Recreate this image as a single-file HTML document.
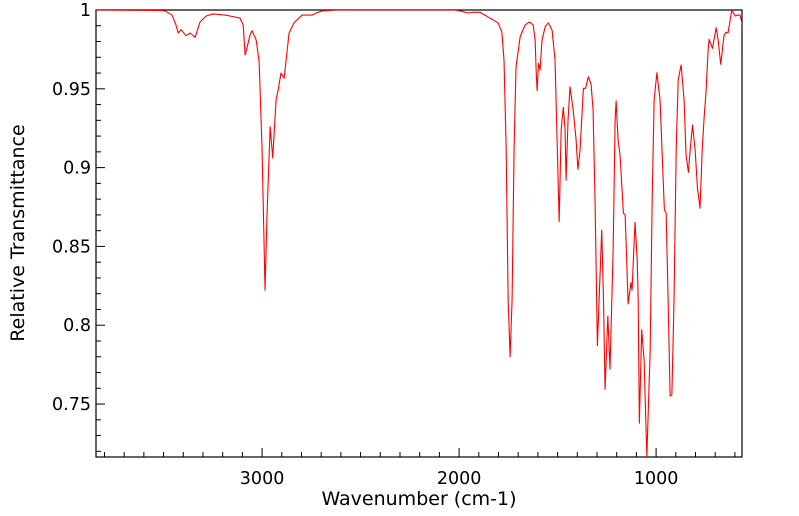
<!DOCTYPE html>
<html><head><meta charset="utf-8">
<style>
html,body{margin:0;padding:0;background:#fff;}
svg{display:block;font-family:"DejaVu Sans","Liberation Sans",sans-serif;}
</style></head>
<body>
<svg id="chart" width="799" height="516" viewBox="0 0 799 516">
  <g id="axes"></g>
  <g id="series"></g>
  <text x="419" y="505" text-anchor="middle" font-size="19">Wavenumber (cm-1)</text>
  <text transform="translate(24,233) rotate(-90)" text-anchor="middle" font-size="19">Relative Transmittance</text>
</svg>
<script>
const wavenumbers = [3843,3518,3492,3457,3437,3426,3411,3386,3365,3340,3315,3284,3249,3188,3147,3112,3096,3086,3061,3051,3030,3015,3000,2985,2975,2959,2946,2929,2919,2904,2888,2878,2863,2838,2797,2746,2726,2695,2624,2020,1995,1954,1934,1893,1827,1802,1783,1772,1761,1751,1741,1731,1721,1711,1690,1665,1643,1624,1614,1609,1604,1597,1589,1579,1563,1547,1528,1513,1492,1482,1471,1462,1457,1447,1437,1421,1406,1397,1386,1369,1358,1344,1330,1320,1310,1298,1276,1267,1259,1245,1234,1218,1208,1203,1193,1183,1166,1157,1142,1128,1122,1107,1096,1091,1085,1073,1061,1047,1030,1020,1010,996,980,970,958,949,939,929,920,909,898,888,873,858,848,836,827,815,802,790,777,766,756,746,736,731,714,695,685,672,655,645,635,624,616,599,584,574,560];
const transmittance = [1.0,0.9997,0.9994,0.9968,0.9905,0.9854,0.9876,0.9837,0.9854,0.9827,0.9924,0.9962,0.9975,0.9968,0.9958,0.9949,0.9905,0.9714,0.9841,0.9869,0.9810,0.9672,0.9112,0.8223,0.8700,0.9260,0.9061,0.9429,0.9488,0.9600,0.9567,0.9683,0.9854,0.9919,0.9968,0.9968,0.9981,0.9994,1.0,1.0,0.9994,0.9981,0.9985,0.9985,0.9937,0.9918,0.9860,0.9683,0.9112,0.8160,0.7800,0.8160,0.9112,0.9640,0.9831,0.9905,0.9924,0.9905,0.9810,0.9619,0.9488,0.9662,0.9619,0.9810,0.9894,0.9918,0.9873,0.9683,0.8657,0.9239,0.9383,0.9239,0.8921,0.9302,0.9513,0.9366,0.9175,0.8989,0.9112,0.9503,0.9503,0.9577,0.9529,0.9366,0.8794,0.7870,0.8604,0.8160,0.7593,0.8058,0.7722,0.8477,0.9302,0.9423,0.9175,0.9080,0.8712,0.8699,0.8135,0.8270,0.8223,0.8653,0.8414,0.8160,0.7378,0.7970,0.7779,0.7166,0.7843,0.8794,0.9429,0.9602,0.9429,0.9112,0.8731,0.8712,0.8160,0.7551,0.7557,0.8160,0.9112,0.9556,0.9651,0.9429,0.9080,0.8970,0.9112,0.9270,0.9112,0.8869,0.8742,0.9112,0.9323,0.9492,0.9746,0.9814,0.9757,0.9888,0.9810,0.9655,0.9841,0.9859,0.9854,0.9937,1.0,0.9962,0.9968,0.9968,0.9894];
const xTickLabels = [3000,2000,1000];
const yTickLabels = ["1","0.95","0.9","0.85","0.8","0.75"];
const yTickValues = [1,0.95,0.9,0.85,0.8,0.75];

const L=96,R=742,T=10,B=457;
const X0=3843,X1=564,Y0=0.7164,Y1=1.0;
function xs(v){return L+(X0-v)/(X0-X1)*(R-L);}
function ys(v){return B-(v-Y0)/(Y1-Y0)*(B-T);}
const NS="http://www.w3.org/2000/svg";
const axes=document.getElementById('axes');
function mk(tag,attrs,parent){const e=document.createElementNS(NS,tag);for(const k in attrs)e.setAttribute(k,attrs[k]);parent.appendChild(e);return e;}

const frame=mk('rect',{x:L,y:T,width:R-L,height:B-T,fill:'none',stroke:'#000','stroke-width':1.2},axes);



for(let v=3800;v>=600;v-=100){
  const x=xs(v);
  const major=(v%1000===0);
  const t=mk('line',{x1:x,x2:x,y1:B,y2:B-(major?9:5),stroke:'#000','stroke-width':1},axes);
  
  
}
xTickLabels.forEach(v=>{
  const t=mk('text',{x:xs(v),y:484,'text-anchor':'middle','font-size':17.5},axes);
  t.textContent=v;
  
  
});
for(let i=72;i<=100;i++){
  const v=i/100;const y=ys(v);
  const major=(i%5===0);
  const t=mk('line',{x1:L,x2:L+(major?9:5),y1:y,y2:y,stroke:'#000','stroke-width':1},axes);
  
  
}
yTickValues.forEach((v,i)=>{
  const t=mk('text',{x:L-5,y:ys(v)+6,'text-anchor':'end','font-size':17.5},axes);
  t.textContent=yTickLabels[i];
  
  
});

const series=document.getElementById('series');
const cp=mk('clipPath',{id:'clip'},series);
mk('rect',{x:L,y:T,width:R-L,height:B-T},cp);
let d='';
wavenumbers.forEach((w,i)=>{d+=(i?'L':'M')+xs(w).toFixed(2)+','+ys(transmittance[i]).toFixed(2);});
const line=mk('path',{d:d,fill:'none',stroke:'#ff0000','stroke-width':1.1,'stroke-linejoin':'round','clip-path':'url(#clip)'},series);


</script>
</body></html>
